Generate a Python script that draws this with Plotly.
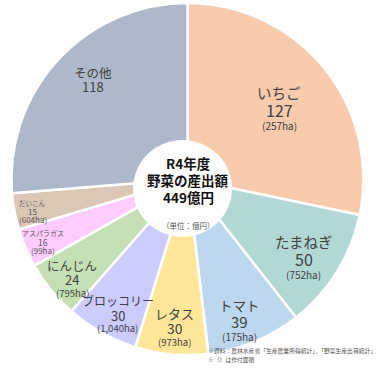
import math
import plotly.graph_objects as go

labels = ["いちご", "たまねぎ", "トマト", "レタス", "ブロッコリー", "にんじん", "アスパラガス", "だいこん", "その他"]
values = [127, 50, 39, 30, 30, 24, 16, 15, 118]
areas = ["257ha", "752ha", "175ha", "973ha", "1,040ha", "795ha", "99ha", "604ha", ""]
colors = ["#F8CBAD", "#B2D8D6", "#BDD7EE", "#FFE699", "#CCCCFF", "#C5E0B4", "#FFCCFF", "#DBC7B6", "#ADB9CA"]
center_lines = ["R4年度", "野菜の産出額", "449億円"]
unit_text = "（単位：億円）"
notes = ["※資料：農林水産省「生産農業所得統計」、「野菜生産出荷統計」", "※（）は作付面積"]

# label styling (sizes in px, radial distance of the value line in px, angular nudge in degrees)
name_sizes = [14.5, 14.5, 13.5, 13, 12, 12.5, 7, 6.5, 12.5]
num_sizes = [16, 16, 15, 14, 13, 13, 8.5, 8, 13]
ha_sizes = [10, 10, 10, 9.5, 9.5, 9.5, 8, 8, 10]
label_r = [115, 141, 152, 150, 153, 153, 158, 158, 132]
label_nudge = [2, 2.6, 2.6, -0.4, -2.2, -2.1, -0.5, -1.4, 1.5]
label_colors = ["#404040"] * 6 + ["#595959", "#595959", "#404040"]
FONT = "Noto Sans CJK JP"

W = H = 378
CX, CY, R = 187.5, 179.0, 176.0  # pie centre / radius in px

fig = go.Figure(go.Pie(
    labels=labels,
    values=values,
    textinfo="none",
    sort=False,
    direction="clockwise",
    rotation=0,
    hole=0,
    marker=dict(colors=colors, line=dict(color="white", width=2.5)),
    domain=dict(x=[(CX - R) / W, (CX + R) / W], y=[(H - CY - R) / H, (H - CY + R) / H]),
    showlegend=False,
    hoverinfo="label+value",
))

# hole
fig.add_shape(type="circle", xref="paper", yref="paper",
              x0=133 / W, x1=232 / W, y0=1 - 237 / H, y1=1 - 140 / H,
              fillcolor="white", line=dict(width=0), layer="above")


def txt(x, y, s, size, color, bold=False, anchor="center"):
    fig.add_annotation(x=x / W, y=1 - y / H, xref="paper", yref="paper",
                       xanchor=anchor, yanchor="middle", showarrow=False,
                       borderpad=0,
                       text=f"<b>{s}</b>" if bold else s,
                       font=dict(family=FONT, size=size, color=color))


# slice labels, placed at the middle angle of each slice
total = sum(values)
cum = 0
for lab, v, a, ns, vs, hs, r, nd, col in zip(labels, values, areas, name_sizes, num_sizes, ha_sizes,
                                             label_r, label_nudge, label_colors):
    mid = (cum + v / 2) / total * 2 * math.pi + math.radians(nd)
    cum += v
    px = CX + r * math.sin(mid)
    py = CY - r * math.cos(mid)
    txt(px, py - 1.1 * vs, lab, ns, col)
    txt(px, py, str(v), vs, col)
    if a:
        txt(px, py + 1.0 * vs, f"({a})", hs, col)

# centre text
for i, s in enumerate(center_lines):
    txt(188, 163 + 17 * i, s, 13.5, "#111111", bold=True)
txt(188, 225, unit_text, 7.5, "#555555")

# notes
for i, s in enumerate(notes):
    txt(207, 350 + 9.5 * i, s, 5.8, "#555555", anchor="left")

fig.update_layout(width=W, height=H, margin=dict(l=0, r=0, t=0, b=0, pad=0),
                  paper_bgcolor="white", plot_bgcolor="white")
fig.write_html("out.html", config={"displayModeBar": False},
               post_script="document.body.style.margin='0';document.body.style.overflow='hidden';")
